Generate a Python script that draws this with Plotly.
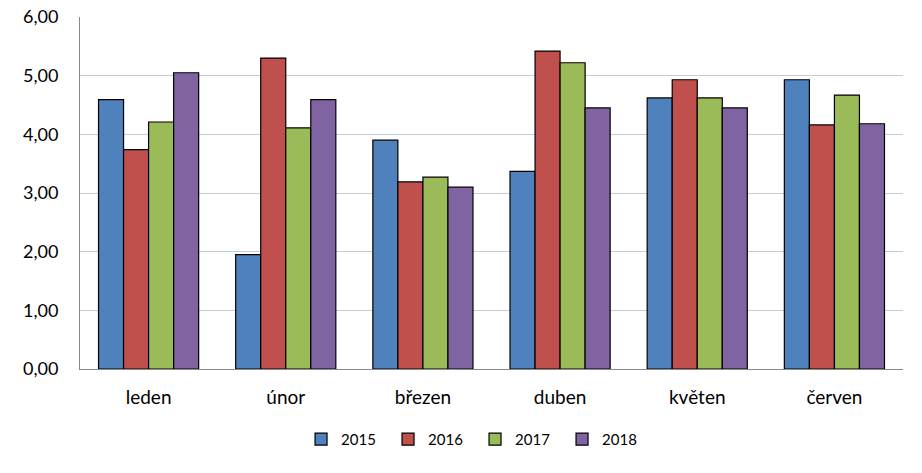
import plotly.graph_objects as go

months = ["leden", "únor", "březen", "duben", "květen", "červen"]
years = ["2015", "2016", "2017", "2018"]
v2015 = [4.59, 1.95, 3.90, 3.37, 4.62, 4.93]
v2016 = [3.74, 5.30, 3.19, 5.42, 4.93, 4.16]
v2017 = [4.21, 4.11, 3.27, 5.22, 4.62, 4.67]
v2018 = [5.05, 4.59, 3.10, 4.45, 4.45, 4.18]
y_ticks = [0, 1, 2, 3, 4, 5, 6]

series = [v2015, v2016, v2017, v2018]
colors = ["#4F81BD", "#C0504D", "#9BBB59", "#8064A2"]

fig = go.Figure()
for name, vals, col in zip(years, series, colors):
    fig.add_trace(go.Bar(
        x=months, y=vals, name=name,
        marker=dict(color=col, line=dict(color="#000000", width=1.2)),
    ))

font_family = "Lato, 'Open Sans', sans-serif"
fig.update_layout(
    width=922, height=473,
    autosize=False,
    barmode="group", bargap=0.27, bargroupgap=0,
    plot_bgcolor="white", paper_bgcolor="white",
    margin=dict(l=80, r=19, t=17, b=104, autoexpand=False),
    separators=", ",
    font=dict(family=font_family, color="#000000"),
    showlegend=True,
    legend=dict(orientation="h", x=0.48, xanchor="center", y=-0.2, yanchor="middle",
                font=dict(size=15), entrywidth=42, entrywidthmode="pixels",
                itemwidth=30, traceorder="normal"),
    yaxis=dict(range=[0, 6], tickvals=y_ticks, tickformat=".2f",
               showgrid=True, gridcolor="#C3CDD6", gridwidth=1,
               showline=True, linecolor="#898989", linewidth=1,
               ticks="", ticklen=0, tickfont=dict(size=18), zeroline=False,
               automargin=False, ticklabelstandoff=17, ticklabeloverflow="allow"),
    xaxis=dict(showline=True, linecolor="#898989", linewidth=1,
               ticks="", tickfont=dict(size=19), showgrid=False,
               automargin=False, ticklabelstandoff=11),
)

fig.write_html("out.html", config={"displayModeBar": False},
               post_script="document.body.style.margin='0';")
